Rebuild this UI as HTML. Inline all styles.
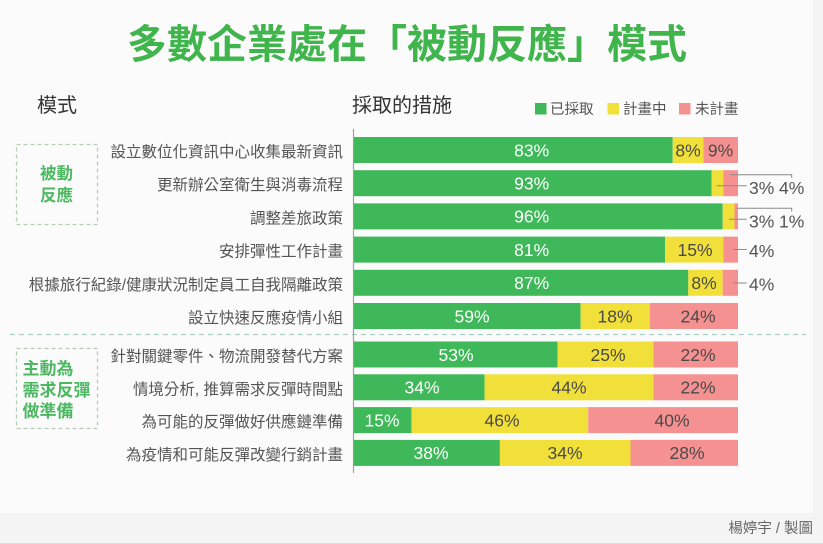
<!DOCTYPE html>
<html><head><meta charset="utf-8">
<style>
html,body{margin:0;padding:0;background:#f4f4f5;}
svg{display:block;}
text{font-family:"Liberation Sans","Noto Sans CJK TC",sans-serif;}
.cjk{font-family:"Liberation Sans","Noto Sans CJK TC",sans-serif;}
.lbl{font-size:15.5px;fill:#555;text-anchor:end;}
.pw{font-size:17.5px;fill:#fff;text-anchor:middle;}
.pd{font-size:17.5px;fill:#4a4a4a;text-anchor:middle;}
.co{font-size:17.5px;fill:#555;}
</style></head>
<body>
<svg width="823" height="544" viewBox="0 0 823 544" xmlns="http://www.w3.org/2000/svg">
<rect x="0" y="0" width="823" height="544" fill="#f4f4f5"/>
<rect x="0" y="0" width="813" height="513" fill="#fbfbfb"/>
<line x1="0" y1="543.5" x2="823" y2="543.5" stroke="#dcdcdc" stroke-width="1"/>

<!-- title -->
<text x="407" y="58" text-anchor="middle" font-size="40" font-weight="bold" fill="#3fb54c" class="cjk">多數企業處在「被動反應」模式</text>

<!-- headers -->
<text x="37" y="112" font-size="20" fill="#333">模式</text>
<text x="352" y="112" font-size="20" fill="#333">採取的措施</text>

<!-- legend -->
<rect x="535" y="103" width="11.5" height="11.5" fill="#3fb85a"/>
<text x="550" y="114" font-size="14.5" fill="#555">已採取</text>
<rect x="607.5" y="103" width="11.5" height="11.5" fill="#f2e03a"/>
<text x="623" y="114" font-size="14.5" fill="#555">計畫中</text>
<rect x="679" y="103" width="11.5" height="11.5" fill="#f69191"/>
<text x="695" y="114" font-size="14.5" fill="#555">未計畫</text>

<!-- group boxes -->
<rect x="16.5" y="144.5" width="81" height="80" fill="none" stroke="#b3cdb7" stroke-width="1.2" stroke-dasharray="4,3"/>
<text x="56.5" y="179" text-anchor="middle" font-size="16.5" font-weight="bold" fill="#4cb862">被動</text>
<text x="56.5" y="201" text-anchor="middle" font-size="16.5" font-weight="bold" fill="#4cb862">反應</text>

<rect x="16.5" y="348.5" width="81" height="80" fill="none" stroke="#b3cdb7" stroke-width="1.2" stroke-dasharray="4,3"/>
<text x="22.5" y="374.5" font-size="17" font-weight="bold" fill="#4cb862">主動為</text>
<text x="22.5" y="396" font-size="17" font-weight="bold" fill="#4cb862">需求反彈</text>
<text x="22.5" y="417" font-size="17" font-weight="bold" fill="#4cb862">做準備</text>

<!-- separator -->
<line x1="10" y1="334.5" x2="806" y2="334.5" stroke="#a9cfc6" stroke-width="1.2" stroke-dasharray="5,4"/>

<!-- axis -->
<line x1="353.5" y1="129" x2="353.5" y2="473" stroke="#a0a0a0" stroke-width="1.2"/>

<!-- row labels -->
<text class="lbl" x="343" y="157">設立數位化資訊中心收集最新資訊</text>
<text class="lbl" x="343" y="190.2">更新辦公室衛生與消毒流程</text>
<text class="lbl" x="343" y="223.4">調整差旅政策</text>
<text class="lbl" x="343" y="256.6">安排彈性工作計畫</text>
<text class="lbl" x="343" y="289.8">根據旅行紀錄/健康狀況制定員工自我隔離政策</text>
<text class="lbl" x="343" y="323">設立快速反應疫情小組</text>
<text class="lbl" x="343" y="361.5">針對關鍵零件、物流開發替代方案</text>
<text class="lbl" x="343" y="394.3">情境分析, 推算需求反彈時間點</text>
<text class="lbl" x="343" y="427.1">為可能的反彈做好供應鏈準備</text>
<text class="lbl" x="343" y="459.9">為疫情和可能反彈改變行銷計畫</text>

<!-- bars -->
<g>
<!-- row1 -->
<rect x="354" y="137" width="318.7" height="26" fill="#3fb85a"/>
<rect x="672.7" y="137" width="30.7" height="26" fill="#f2e03a"/>
<rect x="703.4" y="137" width="34.6" height="26" fill="#f69191"/>
<!-- row2 -->
<rect x="354" y="170.2" width="357.5" height="26" fill="#3fb85a"/>
<rect x="711.5" y="170.2" width="11.8" height="26" fill="#f2e03a"/>
<rect x="723.3" y="170.2" width="14.7" height="26" fill="#f69191"/>
<!-- row3 -->
<rect x="354" y="203.4" width="368.7" height="26" fill="#3fb85a"/>
<rect x="722.7" y="203.4" width="11.8" height="26" fill="#f2e03a"/>
<rect x="734.5" y="203.4" width="3.5" height="26" fill="#f69191"/>
<!-- row4 -->
<rect x="354" y="236.6" width="311" height="26" fill="#3fb85a"/>
<rect x="665" y="236.6" width="58.3" height="26" fill="#f2e03a"/>
<rect x="723.3" y="236.6" width="14.7" height="26" fill="#f69191"/>
<!-- row5 -->
<rect x="354" y="269.8" width="334.3" height="26" fill="#3fb85a"/>
<rect x="688.3" y="269.8" width="34.4" height="26" fill="#f2e03a"/>
<rect x="722.7" y="269.8" width="15.3" height="26" fill="#f69191"/>
<!-- row6 -->
<rect x="354" y="303" width="226.6" height="26" fill="#3fb85a"/>
<rect x="580.6" y="303" width="69.1" height="26" fill="#f2e03a"/>
<rect x="649.7" y="303" width="88.3" height="26" fill="#f69191"/>
<!-- row7 -->
<rect x="354" y="341.5" width="203.5" height="26" fill="#3fb85a"/>
<rect x="557.5" y="341.5" width="96" height="26" fill="#f2e03a"/>
<rect x="653.5" y="341.5" width="84.5" height="26" fill="#f69191"/>
<!-- row8 -->
<rect x="354" y="374.3" width="130.6" height="26" fill="#3fb85a"/>
<rect x="484.6" y="374.3" width="168.9" height="26" fill="#f2e03a"/>
<rect x="653.5" y="374.3" width="84.5" height="26" fill="#f69191"/>
<!-- row9 -->
<rect x="354" y="407.1" width="57.6" height="26" fill="#3fb85a"/>
<rect x="411.6" y="407.1" width="176.6" height="26" fill="#f2e03a"/>
<rect x="588.2" y="407.1" width="149.8" height="26" fill="#f69191"/>
<!-- row10 -->
<rect x="354" y="439.9" width="145.9" height="26" fill="#3fb85a"/>
<rect x="499.9" y="439.9" width="130.6" height="26" fill="#f2e03a"/>
<rect x="630.5" y="439.9" width="107.5" height="26" fill="#f69191"/>
</g>

<!-- bar labels -->
<text class="pw" x="531.7" y="156.3">83%</text>
<text class="pd" x="688" y="156.3">8%</text>
<text class="pd" x="720.5" y="156.3">9%</text>

<text class="pw" x="531.7" y="189.5">93%</text>
<text class="pw" x="531.7" y="222.7">96%</text>

<text class="pw" x="531.7" y="255.9">81%</text>
<text class="pd" x="695" y="255.9">15%</text>

<text class="pw" x="531.7" y="289.1">87%</text>
<text class="pd" x="704" y="289.1">8%</text>

<text class="pw" x="472" y="322.3">59%</text>
<text class="pd" x="615" y="322.3">18%</text>
<text class="pd" x="698" y="322.3">24%</text>

<text class="pw" x="456" y="360.8">53%</text>
<text class="pd" x="608" y="360.8">25%</text>
<text class="pd" x="698" y="360.8">22%</text>

<text class="pw" x="422" y="393.6">34%</text>
<text class="pd" x="569" y="393.6">44%</text>
<text class="pd" x="698" y="393.6">22%</text>

<text class="pw" x="382" y="426.4">15%</text>
<text class="pd" x="502" y="426.4">46%</text>
<text class="pd" x="672" y="426.4">40%</text>

<text class="pw" x="431" y="459.2">38%</text>
<text class="pd" x="565" y="459.2">34%</text>
<text class="pd" x="687" y="459.2">28%</text>

<!-- callouts -->
<g stroke="#8a8a8a" stroke-width="1" fill="none">
<polyline points="730,174.7 791.7,174.7 791.7,178"/>
<line x1="716.7" y1="185.7" x2="746.7" y2="185.7"/>
<polyline points="736.7,208.3 791.7,208.3 791.7,211.5"/>
<line x1="729" y1="219.3" x2="746.7" y2="219.3"/>
<line x1="733" y1="249.5" x2="746.7" y2="249.5"/>
<line x1="733" y1="283" x2="746.7" y2="283"/>
</g>
<text class="co" x="749" y="193.8">3%</text>
<text class="co" x="779" y="193.8">4%</text>
<text class="co" x="749" y="227.3">3%</text>
<text class="co" x="779" y="227.3">1%</text>
<text class="co" x="749" y="257">4%</text>
<text class="co" x="749" y="290.3">4%</text>

<!-- credit -->
<text x="813" y="533" text-anchor="end" font-size="14.5" fill="#666">楊婷宇 / 製圖</text>
</svg>
</body></html>
